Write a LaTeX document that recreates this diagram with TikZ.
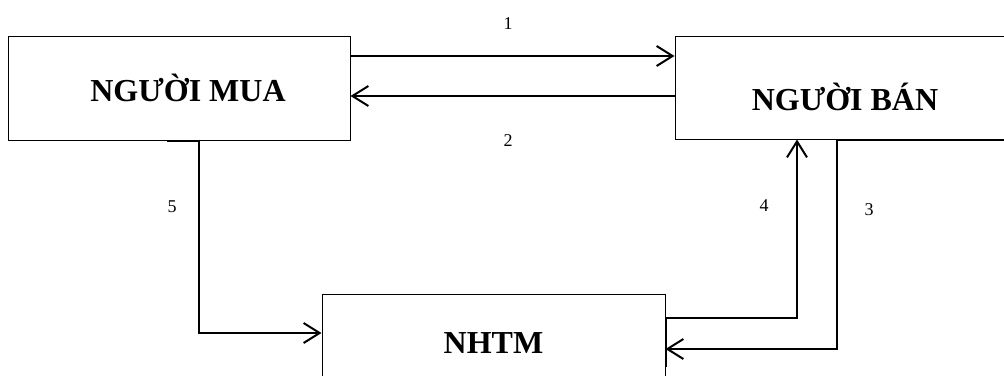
\documentclass[tikz,border=0pt]{standalone}
\usepackage{fontspec}
\setmainfont{Liberation Serif}
\usetikzlibrary{arrows.meta}

\begin{document}
\begin{tikzpicture}[x=1pt,y=-1pt,
  box/.style={draw=black,line width=1pt,inner sep=0pt,font=\fontsize{32}{38}\selectfont\bfseries},
  conn/.style={draw=black,line width=2pt},
  num/.style={inner sep=0pt,font=\fontsize{18}{22}\selectfont},
  >={Straight Barb[length=16pt,width=20pt]}]
\useasboundingbox (0,0) rectangle (1004,375);
% boxes
\node [box,minimum width=342pt,minimum height=104pt,
  label={[box,draw=none,xshift=9pt]center:NGƯỜI MUA}] (mua) at (179,88) {};
\node [box,minimum width=340pt,minimum height=103pt,
  label={[box,draw=none,yshift=-9pt]center:NGƯỜI BÁN}] (ban) at (845,87.5) {};
\node [box,minimum width=343pt,minimum height=98pt] (nhtm) at (493.5,343) {NHTM};
% connectors
\draw [conn,->] (mua.east |- 0,56) -- (ban.west |- 0,56);
\draw [conn,->] (ban.west |- 0,96) -- (mua.east |- 0,96);
\draw [conn,->] (ban.south -| 1010,0) -| (837,349) -- (nhtm.east |- 0,349);
\draw [conn,->] (nhtm.east |- 0,367) -- (nhtm.east |- 0,318) -| (ban.south -| 797,0);
\draw [conn,->] (mua.south -| 167,0) -| (199,333) -- (nhtm.west |- 0,333);
% numbers
\node [num] (lbl1) at (508,24) {1};
\node [num] (lbl2) at (508,141) {2};
\node [num] (lbl3) at (869,210) {3};
\node [num] (lbl4) at (764,206) {4};
\node [num] (lbl5) at (172,207) {5};
\end{tikzpicture}
\end{document}
